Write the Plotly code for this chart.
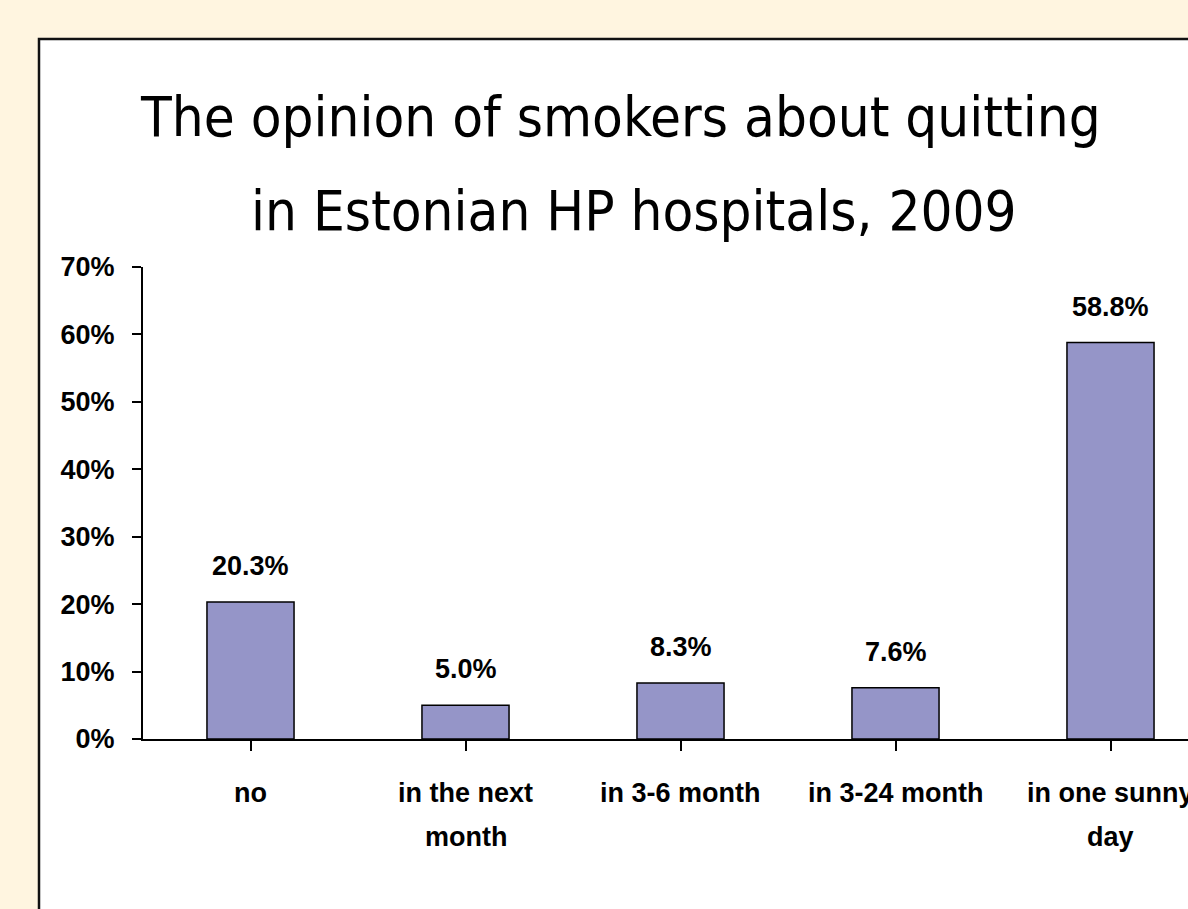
import plotly.graph_objects as go

categories = ["no", "in the next<br>month", "in 3-6 month", "in 3-24 month", "in one sunny<br>day"]
values = [20.3, 5.0, 8.3, 7.6, 58.8]
labels = ["20.3%", "5.0%", "8.3%", "7.6%", "58.8%"]
y_ticks = [0, 10, 20, 30, 40, 50, 60, 70]
y_tick_text = ["0%", "10%", "20%", "30%", "40%", "50%", "60%", "70%"]
title_lines = ["The opinion of smokers about quitting", "in Estonian HP hospitals, 2009"]

W, H = 1188, 909
L, R, T, B = 143, 0, 267, 170
PW, PH = W - L - R, H - T - B
LBL_FONT = "Liberation Sans, Arial, sans-serif"
TITLE_FONT = "DejaVu Sans Condensed, sans-serif"


def px_x(px):
    return (px - L) / PW


def px_y(py):
    return (H - B - py) / PH


fig = go.Figure()
fig.add_trace(go.Bar(
    x=list(range(len(categories))), y=values, width=0.405,
    marker=dict(color="#9595C8", line=dict(color="black", width=1.5)),
    hoverinfo="skip",
))

# data labels
for i, (v, t) in enumerate(zip(values, labels)):
    fig.add_annotation(x=i, y=v, text="<b>%s</b>" % t, showarrow=False,
                       yshift=36, yanchor="middle", xanchor="center",
                       font=dict(family=LBL_FONT, size=27, color="black"))

# category labels (one annotation per line for the wide line spacing)
for i, c in enumerate(categories):
    for j, line in enumerate(c.split("<br>")):
        fig.add_annotation(x=i, xref="x", y=px_y(793 + 44 * j), yref="paper",
                           text="<b>%s</b>" % line, showarrow=False,
                           xanchor="center", yanchor="middle",
                           font=dict(family=LBL_FONT, size=27, color="black"))

# title
for j, (line, cx) in enumerate(zip(title_lines, [620, 634])):
    fig.add_annotation(x=px_x(cx), xref="paper", y=px_y(116 + 94 * j), yref="paper",
                       text=line, showarrow=False, xanchor="center", yanchor="middle",
                       font=dict(family=TITLE_FONT, size=56, color="black"))

fig.update_layout(
    width=W, height=H,
    paper_bgcolor="#FFF5E0", plot_bgcolor="rgba(0,0,0,0)",
    margin=dict(l=L, r=R, t=T, b=B),
    showlegend=False,
    shapes=[dict(type="rect", xref="paper", yref="paper",
                 x0=px_x(39), x1=px_x(W + 40), y0=px_y(H + 40), y1=px_y(39),
                 fillcolor="white", line=dict(color="#111111", width=2.5), layer="below")],
)

fig.update_xaxes(
    range=[-0.5, -0.5 + PW / 215.0],
    tickmode="array", tickvals=list(range(len(categories))),
    showticklabels=False,
    tickson="boundaries", ticks="outside", ticklen=10, tickwidth=2, tickcolor="black",
    showline=True, linecolor="black", linewidth=2, showgrid=False, zeroline=False,
)
fig.update_yaxes(
    range=[0, 70], tickmode="array", tickvals=y_ticks,
    ticktext=["<b>%s</b>" % t for t in y_tick_text],
    ticks="outside", ticklen=9, tickwidth=2, tickcolor="black",
    showline=True, linecolor="black", linewidth=2, showgrid=False, zeroline=False,
    tickfont=dict(family=LBL_FONT, size=27, color="black"),
    ticklabelstandoff=12,
)

fig.write_html("out.html")
